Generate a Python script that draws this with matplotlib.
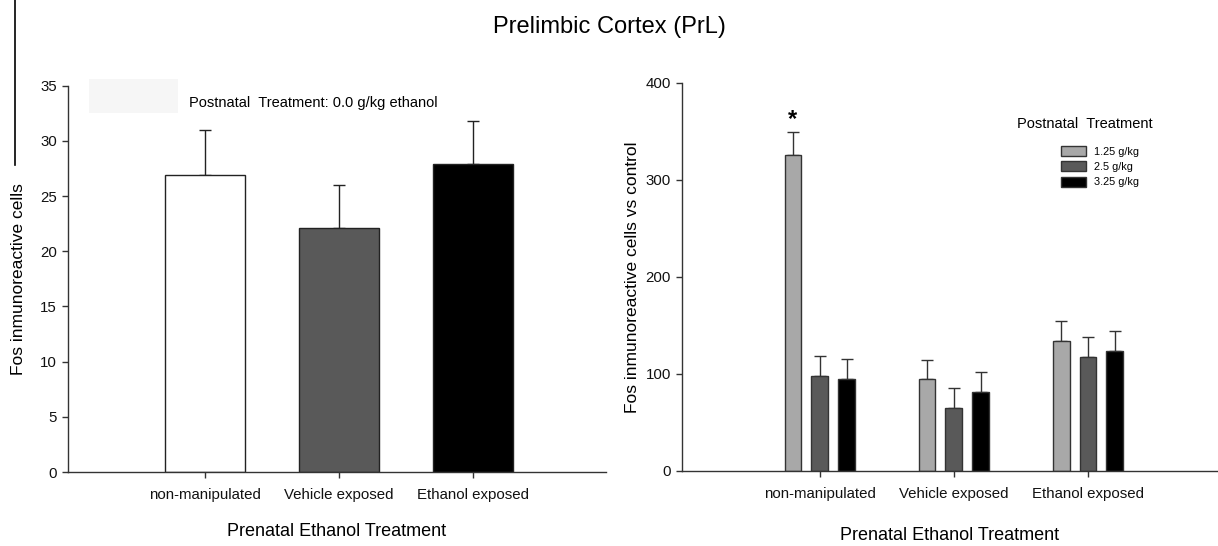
import matplotlib
matplotlib.use("Agg")
import matplotlib.pyplot as plt
from matplotlib.patches import Rectangle
from matplotlib.lines import Line2D
import numpy as np

plt.rcParams['font.family'] = ['Liberation Sans', 'DejaVu Sans']

# ---- data ----
categories = ["non-manipulated", "Vehicle exposed", "Ethanol exposed"]
left_values = [26.9, 22.1, 27.9]
left_errors = [4.1, 3.9, 3.9]
left_colors = ["#ffffff", "#595959", "#000000"]

doses = ["1.25 g/kg", "2.5 g/kg", "3.25 g/kg"]
dose_125 = [325.5, 94.4, 134.0]
err_125 = [24.2, 20.1, 20.5]
dose_25 = [97.8, 65.3, 117.6]
err_25 = [20.5, 20.5, 20.5]
dose_325 = [94.7, 81.7, 123.8]
err_325 = [20.2, 20.5, 20.8]
dose_colors = ["#a8a8a8", "#595959", "#000000"]

W, H = 1218, 546
fig = plt.figure(figsize=(W / 100, H / 100), dpi=100)

def px_box(x0, y0, x1, y1):
    return [x0 / W, 1 - y1 / H, (x1 - x0) / W, (y1 - y0) / H]

axis_col = "#333333"

def style(ax):
    for s in ["top", "right"]:
        ax.spines[s].set_visible(False)
    for s in ["left", "bottom"]:
        ax.spines[s].set_color(axis_col)
        ax.spines[s].set_linewidth(1.0)
    ax.tick_params(axis="both", direction="out", length=4.3, width=1.0,
                   color=axis_col, labelsize=10.8, labelcolor="#111111")

# ---- left panel ----
axL = fig.add_axes(px_box(67.7, 85.7, 605.7, 472))
x = np.arange(len(categories))
axL.bar(x, left_values, width=0.6, color=left_colors, edgecolor="#222222",
        linewidth=1.0, zorder=2)
axL.errorbar(x, left_values, yerr=[np.zeros(3), left_errors], fmt="none",
             ecolor="#222222", elinewidth=1.0, capsize=4.3, capthick=1.0, zorder=1)
axL.set_xlim(-1.027, 2.99)
axL.set_ylim(0, 35)
axL.set_yticks(np.arange(0, 36, 5))
axL.set_xticks(x)
axL.set_xticklabels(categories)
style(axL)
axL.tick_params(axis="x", pad=7)
axL.set_ylabel("Fos inmunoreactive cells", fontsize=12.5, labelpad=10)
axL.set_xlabel("Prenatal Ethanol Treatment", fontsize=13, labelpad=15)
axL.text(0.225, 0.955, "Postnatal  Treatment: 0.0 g/kg ethanol",
         transform=axL.transAxes, fontsize=10.5, va="center", ha="left")
fig.patches.append(Rectangle((89 / W, 1 - 113 / H), 89 / W, 34 / H,
                             transform=fig.transFigure, facecolor="#f6f6f6",
                             edgecolor="none", zorder=0))

# ---- right panel ----
axR = fig.add_axes(px_box(681.7, 82.7, 1218, 471))
bw = 0.125
off = 0.2
series = [dose_125, dose_25, dose_325]
errs = [err_125, err_25, err_325]
bars = []
for i, (vals, e, c) in enumerate(zip(series, errs, dose_colors)):
    pos = x + (i - 1) * off
    b = axR.bar(pos, vals, width=bw, color=c, edgecolor="#333333",
                linewidth=1.0, zorder=2, label=doses[i])
    bars.append(b)
    axR.errorbar(pos, vals, yerr=[np.zeros(3), e], fmt="none",
                 ecolor="#333333", elinewidth=1.0, capsize=4.3, capthick=1.0,
                 zorder=1)
axR.set_xlim(-1.03, 2.97)
axR.set_ylim(0, 400)
axR.set_yticks([0, 100, 200, 300, 400])
axR.set_xticks(x)
axR.set_xticklabels(categories)
style(axR)
axR.tick_params(axis="x", pad=7)
axR.set_ylabel("Fos inmunoreactive cells vs control", fontsize=12.5, labelpad=4)
axR.set_xlabel("Prenatal Ethanol Treatment", fontsize=13, labelpad=19)
axR.text(-0.2, 362, "*", fontsize=17, ha="center", va="center", fontweight="bold")

fig.text(1017 / W, 1 - 124 / H, "Postnatal  Treatment", fontsize=10.5,
         ha="left", va="center")
leg = fig.legend(handles=bars, labels=doses, loc="upper left",
                 bbox_to_anchor=(1061 / W, 1 - 146 / H), frameon=False,
                 fontsize=7.8, handlelength=2.3, handleheight=1.05,
                 handletextpad=0.7, labelspacing=0.42, borderpad=0,
                 borderaxespad=0)

# ---- figure title and edge line ----
fig.text(0.5, 1 - 27 / H, "Prelimbic Cortex (PrL)", fontsize=17,
         ha="center", va="center")
fig.lines.append(Line2D([15 / W, 15 / W], [1.0, 1 - 165 / H],
                        transform=fig.transFigure, color="#000000", lw=1.2))

fig.savefig("out.png", dpi=100)
